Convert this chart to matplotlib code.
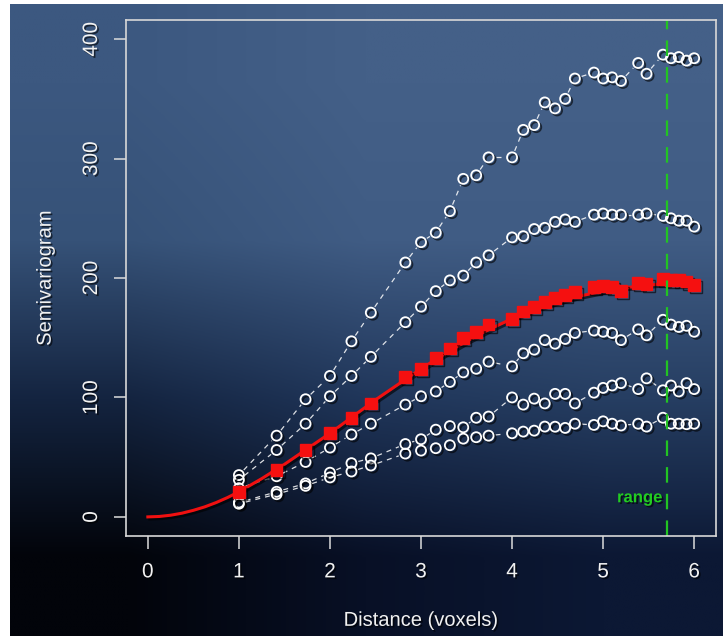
import numpy as np
import matplotlib
matplotlib.use("Agg")
import matplotlib.pyplot as plt
import matplotlib.patheffects as pe

plt.rcParams['font.family'] = ['Liberation Sans', 'DejaVu Sans']

# lag distances (voxels)
dist = [1.0, 1.414, 1.732, 2.0, 2.236, 2.449, 2.828, 3.0, 3.162, 3.317, 3.464,
        3.606, 3.742, 4.0, 4.123, 4.243, 4.359, 4.472, 4.583, 4.690, 4.899,
        5.0, 5.099, 5.196, 5.385, 5.477, 5.657, 5.745, 5.831, 5.916, 6.0]

# five experimental semivariograms (white circles), top to bottom
gam_1 = [35, 68, 98.5, 118, 147, 171, 213, 230, 238, 256, 283, 286, 301, 301,
         324, 328, 347, 342, 350, 367, 372, 367, 368, 365, 380, 371, 387, 384,
         385, 382, 384]
gam_2 = [31, 56, 78, 101, 118, 134, 163, 176, 189, 198, 202, 213, 219, 234,
         235, 241, 242, 247, 249, 247, 253, 254, 253, 253, 253, 254, 252, 250,
         248, 248, 243]
gam_3 = [24, 34, 46, 58, 69, 78, 94, 101, 105, 113, 121, 124, 130, 126, 137,
         140, 148, 145, 149, 154, 156, 155, 154, 148, 157, 152, 165, 161, 159,
         160, 155]
gam_4 = [12, 21, 28, 37, 45, 49, 61, 65, 73, 76, 75, 83, 84, 100, 94, 99, 95,
         103, 103, 95, 104, 108, 110, 112, 107, 116, 106, 110, 105, 112, 107]
gam_5 = [11, 19, 26, 33, 38, 43, 53, 55.5, 57.5, 60, 65.5, 66.7, 68, 70, 71.4,
         72.2, 75.6, 75.5, 74.5, 78, 77, 80, 78, 76.5, 78, 75.6, 83, 78, 78,
         77.6, 78]

# average semivariogram (red squares)
gam_mean = [21, 39, 56, 70, 83, 95, 117, 124, 133, 141, 149.5, 155, 161, 166,
            172, 176, 180, 183, 186, 188.5, 192.5, 193, 192.5, 189, 195.5, 195,
            199.5, 198, 198, 197, 194]

# fitted model curve
model_d = [0, 0.125, 0.25, 0.375, 0.5, 0.625, 0.75, 0.875, 1.0, 1.25, 1.5,
           1.75, 2.0, 2.25, 2.5, 2.75, 3.0, 3.25, 3.5, 3.75, 4.0, 4.25, 4.5,
           4.75, 5.0, 5.25, 5.5, 5.75, 6.0]
model_g = [0, 0.35, 1.4, 3.1, 5.5, 8.4, 12, 16.2, 21, 32, 44, 57, 70, 84, 98,
           111, 124, 136, 147, 157, 166, 174, 180, 185, 189, 192, 194, 196, 197]

range_d = 5.7

# slide background colours, rows top -> bottom, cols left -> right
bg = np.array([
    [[60, 88, 128], [68, 96, 136], [68, 96, 136]],
    [[54, 82, 120], [64, 92, 132], [64, 92, 132]],
    [[20, 36, 64], [32, 54, 90], [38, 62, 98]],
    [[2, 4, 10], [8, 16, 38], [12, 24, 52]],
], dtype=float) / 255.0

fig = plt.figure(figsize=(7.23, 6.36), dpi=100)
fig.patch.set_facecolor('white')

bgax = fig.add_axes([10 / 723, 0, 713 / 723, 632 / 636])
bgax.imshow(bg, aspect='auto', interpolation='bilinear', extent=[0, 1, 0, 1])
bgax.set_axis_off()

ax = fig.add_axes([126 / 723, 100 / 636, 590 / 723, 516 / 636])
ax.patch.set_alpha(0)
ax.set_xlim(-0.24, 6.24)
ax.set_ylim(-16, 416)

shadow = [pe.SimpleLineShadow(offset=(1.5, -1.5), shadow_color='black', alpha=0.6),
          pe.Normal()]
txt_shadow = [pe.SimplePatchShadow(offset=(1.2, -1.2), shadow_rgbFace='black', alpha=0.6),
              pe.Normal()]


def gapped_line(xs, ys, gap=7):
    # R type="b": segments stop short of each point
    pts = ax.transData.transform(np.column_stack([xs, ys]))
    inv = ax.transData.inverted()
    for p, q in zip(pts[:-1], pts[1:]):
        d = q - p
        n = np.hypot(*d)
        if n <= 2 * gap + 2:
            continue
        u = d / n
        seg = inv.transform(np.array([p + u * gap, q - u * gap]))
        ax.plot(seg[:, 0], seg[:, 1], color='white', lw=0.9, ls=(0, (4, 4)),
                alpha=0.85)


for g in [gam_1, gam_2, gam_3, gam_4, gam_5]:
    gapped_line(dist, g)
    ax.plot(dist, g, ls='none', marker='o', ms=7.2, mfc='none', mec='white',
            mew=1.3, path_effects=shadow)

ax.plot(model_d, model_g, color='#f01010', lw=2.2, path_effects=shadow)
ax.plot(dist, gam_mean, ls='none', marker='s', ms=8.5, color='#f51010',
        mec='#f51010', path_effects=shadow)

ax.axvline(range_d, color='#22c422', lw=1.6, ls=(0, (7, 5)))
ax.text(range_d - 0.05, 16, 'range', color='#22cc22', fontsize=12,
        fontweight='bold', ha='right', va='center', path_effects=txt_shadow)

ax.set_xticks([0, 1, 2, 3, 4, 5, 6])
ax.set_yticks([0, 100, 200, 300, 400])

for s in ax.spines.values():
    s.set_color('#d8d8d8')
    s.set_linewidth(1.2)

ax.tick_params(colors='#dcdcdc', labelcolor='#f2f2f2', length=9, width=1.1,
               direction='out', labelsize=15)
ax.tick_params(axis='x', pad=10)
ax.tick_params(axis='y', pad=9)
for lab in ax.get_yticklabels():
    lab.set_rotation(90)
    lab.set_ha('right')
    lab.set_va('center')
for lab in ax.get_xticklabels() + ax.get_yticklabels():
    lab.set_path_effects(txt_shadow)

ax.set_xlabel('Distance (voxels)', color='#f2f2f2', fontsize=14.5,
              path_effects=txt_shadow)
ax.set_ylabel('Semivariogram', color='#f2f2f2', fontsize=14.5,
              path_effects=txt_shadow)
ax.xaxis.set_label_coords(0.5, -0.145)
ax.yaxis.set_label_coords(-0.137, 0.5)
ax.yaxis.label.set_va('center')
ax.xaxis.label.set_va('top')

fig.savefig('out.png', dpi=100)
